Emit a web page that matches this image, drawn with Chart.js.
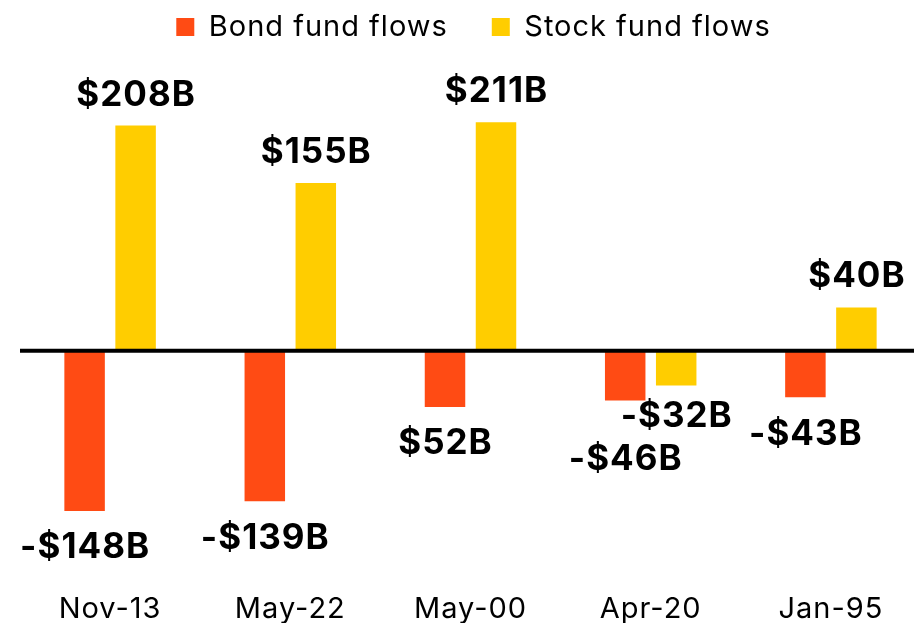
<!DOCTYPE html>
<html>
<head>
<meta charset="utf-8">
<script src="https://cdn.jsdelivr.net/npm/chart.js@4.4.0/dist/chart.umd.min.js"></script>
<style>
  html, body { margin: 0; padding: 0; background: #fff; overflow: hidden; }
  #wrap { width: 914px; height: 623px; overflow: hidden; position: relative; }
  canvas { display: block; }
</style>
</head>
<body>
<div id="wrap"><canvas id="c" width="927" height="640"></canvas></div>
<script>
const categories = ["Nov-13", "May-22", "May-00", "Apr-20", "Jan-95"];
const seriesNames = ["Bond fund flows", "Stock fund flows"];
const bondFlows = [-148, -139, -52, -46, -43];
const stockFlows = [208, 155, 211, -32, 40];
const bondLabels = ["-$148B", "-$139B", "$52B", "-$46B", "-$43B"];
const stockLabels = ["$208B", "$155B", "$211B", "-$32B", "$40B"];

const BOND_COLOR = "#FF4B14";
const STOCK_COLOR = "#FFCD00";
const LABEL_FONT = 35;
const FONT_FAMILY = "Inter, 'Noto Sans', sans-serif";

const spacing = {
  id: 'spacing',
  beforeLayout(chart) { chart.ctx.letterSpacing = '1px'; },
  beforeDraw(chart) { chart.ctx.letterSpacing = '1px'; }
};

const zeroLine = {
  id: 'zeroLine',
  afterDatasetsDraw(chart) {
    const y = chart.scales.y.getPixelForValue(0);
    const ctx = chart.ctx, a = chart.chartArea;
    ctx.save();
    ctx.strokeStyle = '#000';
    ctx.lineWidth = 4;
    ctx.beginPath();
    ctx.moveTo(a.left, y);
    ctx.lineTo(a.right + 20, y);
    ctx.stroke();
    ctx.restore();
  }
};

const valueLabels = {
  id: 'valueLabels',
  afterDraw(chart) {
    const ctx = chart.ctx;
    ctx.save();
    ctx.letterSpacing = '1px';
    ctx.font = "bold " + LABEL_FONT + "px " + FONT_FAMILY;
    ctx.fillStyle = '#000';
    ctx.textAlign = 'center';
    ctx.textBaseline = 'alphabetic';
    const capH = LABEL_FONT * 0.727;
    const labelSets = [bondLabels, stockLabels];
    const n = categories.length;
    for (let i = 0; i < n; i++) {
      const items = [];
      chart.data.datasets.forEach((ds, d) => {
        const bar = chart.getDatasetMeta(d).data[i];
        const v = ds.data[i];
        const text = labelSets[d][i];
        const w = ctx.measureText(text).width;
        let base;
        if (v >= 0) base = bar.y - 20;
        else base = bar.y + 22 + capH;
        items.push({x: bar.x, barEnd: bar.y, base, w, text, neg: v < 0});
      });
      const [a, b] = items;
      const overlapX = Math.abs(a.x - b.x) < (a.w + b.w) / 2;
      const overlapY = Math.abs(a.base - b.base) < capH + 4;
      if (a.neg && b.neg && overlapX && overlapY) {
        const inner = a.barEnd <= b.barEnd ? a : b;
        const outer = inner === a ? b : a;
        inner.base = inner.barEnd + 16 + capH;
        outer.base = inner.base + 18 + capH;
      }
      items.forEach(it => ctx.fillText(it.text, it.x + 0.5, it.base));
    }
    ctx.restore();
  }
};

new Chart(document.getElementById('c'), {
  type: 'bar',
  data: {
    labels: categories,
    datasets: [
      { label: seriesNames[0], data: bondFlows, backgroundColor: BOND_COLOR, borderWidth: 0 },
      { label: seriesNames[1], data: stockFlows, backgroundColor: STOCK_COLOR, borderWidth: 0 }
    ]
  },
  options: {
    responsive: false,
    animation: false,
    devicePixelRatio: 1,
    categoryPercentage: 0.566,
    barPercentage: 0.794,
    layout: { padding: { top: -31.5, left: 20, right: 0, bottom: 7.3 } },
    plugins: {
      legend: {
        position: 'top',
        labels: {
          boxWidth: 18, boxHeight: 18, padding: 44,
          color: '#000',
          font: { family: FONT_FAMILY, size: 29 }
        }
      },
      tooltip: { enabled: false }
    },
    scales: {
      x: {
        grid: { display: false, drawTicks: false },
        border: { display: false },
        ticks: { color: '#000', padding: 6, font: { family: FONT_FAMILY, size: 29 } }
      },
      y: {
        position: 'right',
        min: -217.2, max: 276.4,
        grid: { display: false, drawTicks: false },
        border: { display: false },
        ticks: { display: false },
        afterFit(scale) { scale.width = 6; }
      }
    }
  },
  plugins: [spacing, zeroLine, valueLabels]
});
</script>
</body>
</html>
